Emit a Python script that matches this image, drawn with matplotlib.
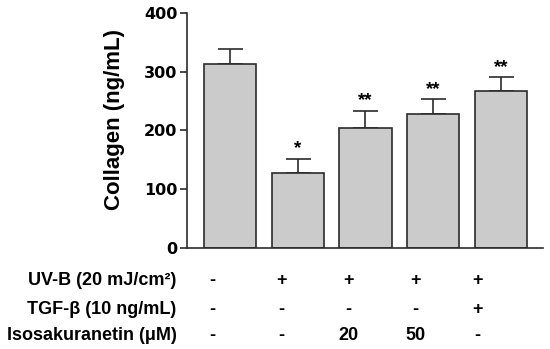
import matplotlib.pyplot as plt
import numpy as np

plt.rcParams['font.family'] = ['Liberation Sans', 'DejaVu Sans']
plt.rcParams['font.weight'] = 'bold'

# data
groups = np.arange(5)
collagen = [314, 128, 204, 228, 268]
sem = [25, 24, 30, 25, 23]
stars = ['', '*', '**', '**', '**']

row_labels = ['UV-B (20 mJ/cm²)', 'TGF-β (10 ng/mL)', 'Isosakuranetin (μM)']
uvb = ['-', '+', '+', '+', '+']
tgf = ['-', '-', '-', '-', '+']
iso = ['-', '-', '20', '50', '-']

fig = plt.figure(figsize=(5.5, 3.49), dpi=100)
ax = fig.add_axes([0.34, 0.2894, 0.647, 0.6734])

edge = '#2b2b2b'
ax.bar(groups, collagen, width=0.77, color='#cbcbcb', edgecolor=edge, linewidth=1.2, zorder=2)
ax.errorbar(groups, collagen, yerr=[np.zeros(5), sem], fmt='none', ecolor=edge,
            elinewidth=1.2, capsize=9, capthick=1.2, zorder=1)

for x, v, e, s in zip(groups, collagen, sem, stars):
    if s:
        ax.text(x, v + e + 2, s, ha='center', va='bottom', fontsize=13.5, fontweight='bold')

ax.set_xlim(-0.635, 4.62)
ax.set_ylim(0, 400)
ax.set_yticks([0, 100, 200, 300, 400])
ax.set_xticks([])
ax.tick_params(axis='y', labelsize=11.5, width=1.2, length=5, color=edge, pad=2)
for lbl in ax.get_yticklabels():
    lbl.set_fontweight('bold')
    lbl.set_family('DejaVu Sans')
ax.spines['top'].set_visible(False)
ax.spines['right'].set_visible(False)
for side in ['left', 'bottom']:
    ax.spines[side].set_linewidth(1.2)
    ax.spines[side].set_color(edge)
ax.set_ylabel('Collagen (ng/mL)', fontsize=16, fontweight='bold')
ax.yaxis.set_label_coords(-0.175, 0.547)

# treatment table below the axis
trans = ax.get_xaxis_transform()
row_y = [-0.138, -0.263, -0.373]
col_shift = [-0.26, -0.24, -0.25, -0.26, -0.35]
for ry, lab, vals in zip(row_y, row_labels, [uvb, tgf, iso]):
    ax.text(-0.79, ry, lab, transform=trans, ha='right', va='center',
            fontsize=13, fontweight='bold', clip_on=False)
    for x, dx, v in zip(groups, col_shift, vals):
        ax.text(x + dx, ry, v, transform=trans, ha='center', va='center',
                fontsize=13, fontweight='bold', clip_on=False)

fig.savefig('out.png', dpi=100)
